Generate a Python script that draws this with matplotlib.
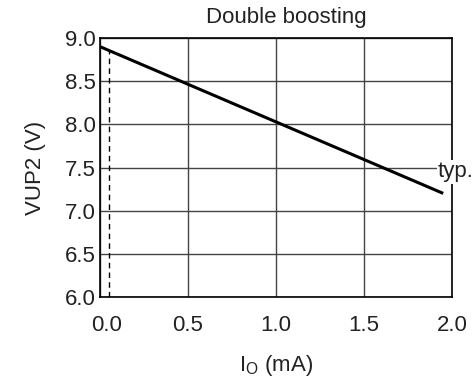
import matplotlib.pyplot as plt
import matplotlib.transforms as mtransforms

plt.rcParams['font.family'] = ['Liberation Sans', 'DejaVu Sans']

# datos
io_ma = [0.0, 1.95]
vup2 = [8.9, 7.2]
dash_x = [0.05, 0.05]
dash_y = [6.0, 8.856]
x_ticks = [0.0, 0.5, 1.0, 1.5, 2.0]
y_ticks = [6.0, 6.5, 7.0, 7.5, 8.0, 8.5, 9.0]

fs = 16
txt = '#222222'

fig = plt.figure(figsize=(4.74, 3.86), dpi=100)
ax = fig.add_axes([100 / 474, 1 - 297 / 386, 352 / 474, 259 / 386])

ax.plot(io_ma, vup2, color='black', lw=2.2, solid_capstyle='butt', zorder=3)
ax.plot(dash_x, dash_y, color='black', lw=1.0, ls=(0, (4, 3)), zorder=3)

ax.set_xlim(0, 2.0)
ax.set_ylim(6.0, 9.0)
ax.set_xticks(x_ticks)
ax.set_yticks(y_ticks)
ax.set_xticklabels([f"{v:.1f}" for v in x_ticks])
ax.set_yticklabels([f"{v:.1f}" for v in y_ticks])
ax.grid(True, color='#444444', lw=1.0)
ax.set_axisbelow(True)
ax.tick_params(length=0, labelsize=fs, colors=txt)
ax.tick_params(axis='x', pad=13)
ax.tick_params(axis='y', pad=3)
for s in ax.spines.values():
    s.set_color('black')
    s.set_linewidth(1.2)

# mover la etiqueta 0.0 un poco a la derecha
lbl = ax.get_xticklabels()[0]
lbl.set_transform(lbl.get_transform() + mtransforms.ScaledTranslation(7 / 100, 0, fig.dpi_scale_trans))

ax.set_title("Double boosting", fontsize=fs, color=txt, pad=11, x=0.53)
ax.set_ylabel("VUP2 (V)", fontsize=fs, color=txt, labelpad=14)
ax.set_xlabel("I$_\\mathregular{O}$ (mA)", fontsize=fs, color=txt, labelpad=12)

ax.text(1.92, 7.45, "typ.", fontsize=fs, color=txt, ha='left', va='center',
        bbox=dict(facecolor='white', edgecolor='none', pad=1), zorder=4, clip_on=False)

fig.savefig("out.png", dpi=100)
